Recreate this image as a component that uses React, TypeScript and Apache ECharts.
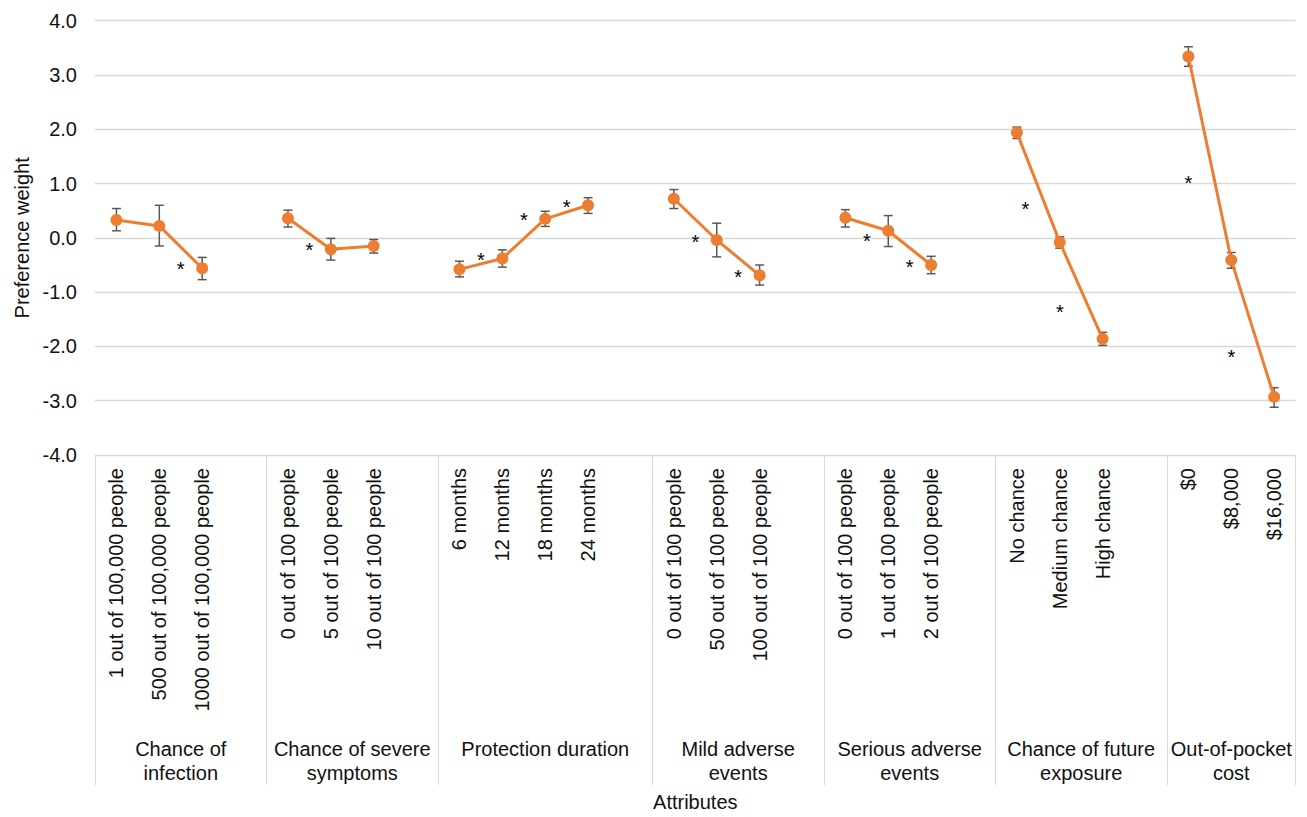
import React, { useEffect, useRef } from "react";
import * as echarts from "echarts";

// Level labels; '' marks the empty spacer slot between attribute groups
const categories: string[] = [
  "1 out of 100,000 people", "500 out of 100,000 people", "1000 out of 100,000 people", "",
  "0 out of 100 people", "5 out of 100 people", "10 out of 100 people", "",
  "6 months", "12 months", "18 months", "24 months", "",
  "0 out of 100 people", "50 out of 100 people", "100 out of 100 people", "",
  "0 out of 100 people", "1 out of 100 people", "2 out of 100 people", "",
  "No chance", "Medium chance", "High chance", "",
  "$0", "$8,000", "$16,000",
];

const groupNames: string[] = [
  "Chance of\ninfection",
  "Chance of severe\nsymptoms",
  "Protection duration",
  "Mild adverse\nevents",
  "Serious adverse\nevents",
  "Chance of future\nexposure",
  "Out-of-pocket\ncost",
];

const weights: (number | null)[] = [
  0.33, 0.22, -0.56, null,
  0.36, -0.21, -0.15, null,
  -0.58, -0.38, 0.35, 0.60, null,
  0.72, -0.04, -0.69, null,
  0.37, 0.13, -0.50, null,
  1.94, -0.08, -1.86, null,
  3.34, -0.41, -2.93,
];

const ciLow: (number | null)[] = [
  0.13, -0.15, -0.77, null,
  0.20, -0.41, -0.28, null,
  -0.72, -0.54, 0.21, 0.45, null,
  0.54, -0.35, -0.87, null,
  0.20, -0.16, -0.66, null,
  1.83, -0.19, -1.98, null,
  3.16, -0.56, -3.12,
];

const ciHigh: (number | null)[] = [
  0.54, 0.60, -0.36, null,
  0.51, -0.01, -0.03, null,
  -0.43, -0.22, 0.49, 0.74, null,
  0.89, 0.27, -0.50, null,
  0.52, 0.41, -0.34, null,
  2.04, 0.02, -1.74, null,
  3.52, -0.27, -2.76,
];

// Significance markers: position in category units, value units
const starX: number[] = [1.5, 4.5, 8.5, 9.5, 10.5, 13.5, 14.5, 17.5, 18.5, 21.2, 22.0, 25.0, 26.0];
const starY: number[] = [-0.49, -0.14, -0.31, 0.43, 0.66, 0.02, -0.63, 0.03, -0.44, 0.62, -1.28, 1.10, -2.11];

const yTicks = { min: -4, max: 4, interval: 1 };

const FONT = 'Arial, "Liberation Sans", sans-serif';
const TEXT = "#111111";
const GRID = "#D9D9D9";
const ORANGE = "#ED7D31";

export default function App() {
  const ref = useRef<HTMLDivElement>(null);

  useEffect(() => {
    if (!ref.current) return;
    const chart = echarts.init(ref.current, undefined, { renderer: "svg" });

    const n = categories.length;
    const bounds: number[] = [-0.5];
    categories.forEach((c, i) => {
      if (c === "") bounds.push(i + 0.5);
    });
    bounds.push(n - 0.5);
    const centers: number[] = [];
    for (let i = 0; i < bounds.length - 1; i++) centers.push((bounds[i] + bounds[i + 1]) / 2);

    const errData = weights
      .map((w, i) => (w === null ? null : [i, ciLow[i], ciHigh[i]]))
      .filter((d) => d !== null);
    const starData = starX.map((x, i) => [x, starY[i]]);

    chart.setOption({
      animation: false,
      grid: { left: 95, right: 11.4, top: 20.7, bottom: 358.3, containLabel: false },
      xAxis: [
        {
          type: "category",
          data: categories,
          boundaryGap: true,
          axisLine: { show: false },
          axisTick: { show: false },
          splitLine: { show: false },
          axisLabel: {
            rotate: 90,
            interval: 0,
            margin: 13,
            fontSize: 20,
            fontFamily: FONT,
            color: TEXT,
          },
        },
        {
          type: "value",
          position: "bottom",
          min: -0.5,
          max: n - 0.5,
          axisLine: { show: false },
          splitLine: { show: false },
          axisTick: {
            show: true,
            customValues: bounds,
            length: 330,
            inside: false,
            lineStyle: { color: GRID, width: 1 },
          },
          axisLabel: {
            show: true,
            customValues: centers,
            margin: 282,
            fontSize: 20,
            lineHeight: 24,
            fontFamily: FONT,
            color: TEXT,
            align: "center",
            formatter: (v: number) => {
              const k = centers.findIndex((c) => Math.abs(c - v) < 1e-6);
              return k >= 0 ? groupNames[k] : "";
            },
          },
          name: "Attributes",
          nameLocation: "middle",
          nameGap: 337,
          nameTextStyle: { fontSize: 20, fontFamily: FONT, color: TEXT },
        },
      ],
      yAxis: {
        type: "value",
        min: yTicks.min,
        max: yTicks.max,
        interval: yTicks.interval,
        axisLine: { show: false },
        axisTick: { show: false },
        splitLine: { lineStyle: { color: GRID, width: 1.3 } },
        axisLabel: {
          margin: 18,
          fontSize: 20,
          fontFamily: FONT,
          color: TEXT,
          formatter: (v: number) => v.toFixed(1),
        },
        name: "Preference weight",
        nameLocation: "middle",
        nameGap: 63,
        nameTextStyle: { fontSize: 20, fontFamily: FONT, color: TEXT },
      },
      series: [
        {
          type: "custom",
          name: "CI",
          xAxisIndex: 0,
          yAxisIndex: 0,
          z: 2,
          data: errData,
          encode: { x: 0, y: [1, 2] },
          renderItem: (params: any, api: any) => {
            const x = api.value(0);
            const lo = api.coord([x, api.value(1)]);
            const hi = api.coord([x, api.value(2)]);
            const w = 4.5;
            const st = { stroke: "#595959", lineWidth: 1.5 };
            return {
              type: "group",
              children: [
                { type: "line", shape: { x1: lo[0], y1: lo[1], x2: hi[0], y2: hi[1] }, style: st },
                { type: "line", shape: { x1: lo[0] - w, y1: lo[1], x2: lo[0] + w, y2: lo[1] }, style: st },
                { type: "line", shape: { x1: hi[0] - w, y1: hi[1], x2: hi[0] + w, y2: hi[1] }, style: st },
              ],
            };
          },
        },
        {
          type: "line",
          name: "Preference weight",
          xAxisIndex: 0,
          yAxisIndex: 0,
          z: 5,
          data: weights,
          connectNulls: false,
          symbol: "circle",
          symbolSize: 12,
          showAllSymbol: true,
          lineStyle: { color: ORANGE, width: 3 },
          itemStyle: { color: ORANGE },
        },
        {
          type: "custom",
          name: "Significance",
          xAxisIndex: 1,
          yAxisIndex: 0,
          z: 6,
          data: starData,
          encode: { x: 0, y: 1 },
          renderItem: (params: any, api: any) => {
            const p = api.coord([api.value(0), api.value(1)]);
            return {
              type: "text",
              x: p[0],
              y: p[1] + 5,
              style: {
                text: "*",
                fontSize: 20,
                fontFamily: FONT,
                fill: "#000",
                align: "center",
                verticalAlign: "middle",
              },
            };
          },
        },
      ],
    });

    return () => chart.dispose();
  }, []);

  return (
    <div
      ref={ref}
      style={{ position: "absolute", left: 0, top: 0, width: 1307, height: 817, background: "#fff" }}
    />
  );
}
